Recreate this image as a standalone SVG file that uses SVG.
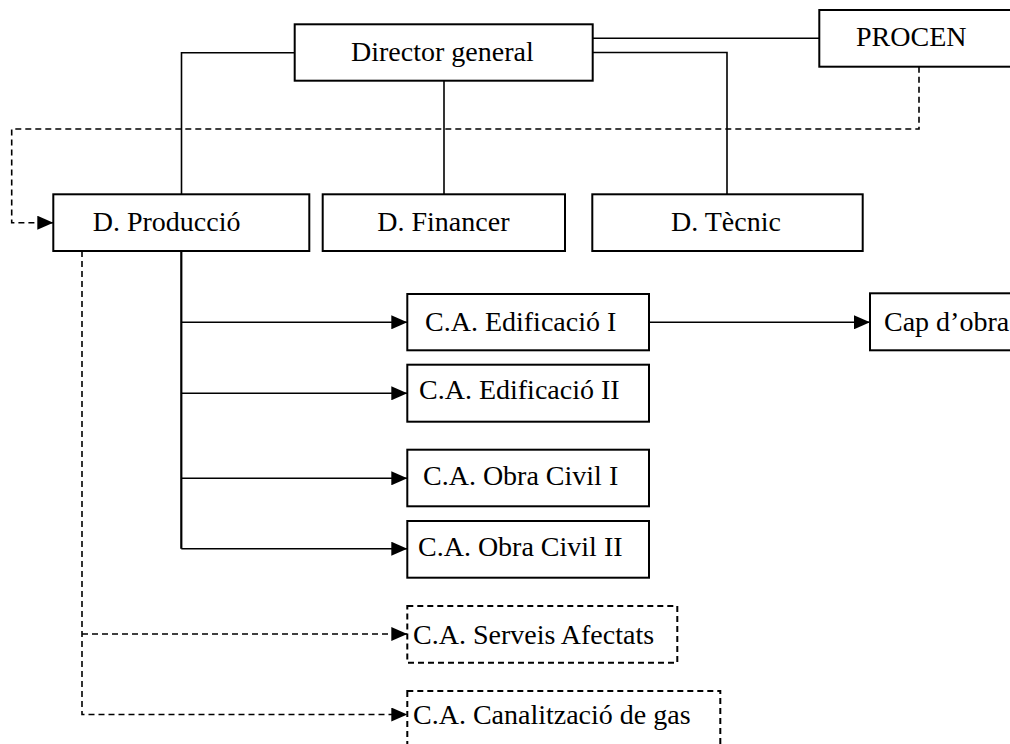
<svg xmlns="http://www.w3.org/2000/svg" width="1010" height="744" viewBox="0 0 1010 744">
<style>
.box{fill:#fff;stroke:#000;stroke-width:2}
.dbox{fill:#fff;stroke:#000;stroke-width:2;stroke-dasharray:6,4}
.t{font-family:"Liberation Serif","Times New Roman",serif;font-size:28px;fill:#000}
.ln{fill:none;stroke:#000;stroke-width:1.6}
.dl{fill:none;stroke:#000;stroke-width:1.6;stroke-dasharray:6,4}
</style>
<defs>
<marker id="ar" markerUnits="userSpaceOnUse" markerWidth="17" markerHeight="14" refX="16" refY="7" orient="auto">
<path d="M0,0 L16,7 L0,14 Z" fill="#000"/>
</marker>
</defs>
<rect width="1010" height="744" fill="#fff"/>
<g id="connectors">
<path class="ln" d="M294.7,52.7 H181.5 V194.3"/>
<path class="ln" d="M444,80.7 V194.3"/>
<path class="ln" d="M592.7,52.5 H727 V194.3"/>
<path class="ln" d="M592.7,38.3 H819.3"/>
<path class="dl" d="M919,66.7 V129 H11.7 V222.7 H53.3" marker-end="url(#ar)"/>
<path class="ln" d="M181.3,251 V548.7" style="stroke-width:2.2"/>
<path class="ln" d="M181.3,322.3 H407.3" marker-end="url(#ar)"/>
<path class="ln" d="M181.3,393.3 H407.3" marker-end="url(#ar)"/>
<path class="ln" d="M181.3,478.3 H407.3" marker-end="url(#ar)"/>
<path class="ln" d="M181.3,548.7 H407.3" marker-end="url(#ar)"/>
<path class="ln" d="M649,322.3 H870" marker-end="url(#ar)"/>
<path class="dl" d="M82,251 V714.5 H407.3" marker-end="url(#ar)"/>
<path class="dl" d="M82,634 H407.3" marker-end="url(#ar)"/>
</g>
<g id="director">
<rect class="box" x="294.7" y="24.3" width="298" height="56.4"/>
<text class="t" x="351" y="61">Director general</text>
</g>
<g id="procen">
<rect class="box" x="819.3" y="10" width="200" height="56.7"/>
<text class="t" x="856" y="46">PROCEN</text>
</g>
<g id="produccio">
<rect class="box" x="53.3" y="194.3" width="256" height="56.7"/>
<text class="t" x="92.7" y="231">D. Producció</text>
</g>
<g id="financer">
<rect class="box" x="322.7" y="194.3" width="242.3" height="56.7"/>
<text class="t" x="377.3" y="231">D. Financer</text>
</g>
<g id="tecnic">
<rect class="box" x="592.3" y="194.3" width="270.4" height="56.7"/>
<text class="t" x="671" y="231">D. Tècnic</text>
</g>
<g id="edif1">
<rect class="box" x="407.3" y="294" width="241.7" height="56.3"/>
<text class="t" x="425" y="331">C.A. Edificació I</text>
</g>
<g id="capobra">
<rect class="box" x="870" y="293.3" width="150" height="57"/>
<text class="t" x="884" y="331">Cap d’obra</text>
</g>
<g id="edif2">
<rect class="box" x="407.3" y="364.7" width="241.7" height="57"/>
<text class="t" x="419" y="399">C.A. Edificació II</text>
</g>
<g id="obra1">
<rect class="box" x="407.3" y="449.7" width="241.7" height="56.6"/>
<text class="t" x="423" y="484.5">C.A. Obra Civil I</text>
</g>
<g id="obra2">
<rect class="box" x="407.3" y="521" width="241.7" height="56.7"/>
<text class="t" x="418" y="555.5">C.A. Obra Civil II</text>
</g>
<g id="serveis">
<rect class="dbox" x="407.3" y="606" width="270" height="56.7"/>
<text class="t" x="413" y="643.5">C.A. Serveis Afectats</text>
</g>
<g id="canalitzacio">
<rect class="dbox" x="407.3" y="691" width="313" height="60"/>
<text class="t" x="413" y="723.5">C.A. Canalització de gas</text>
</g>
</svg>
